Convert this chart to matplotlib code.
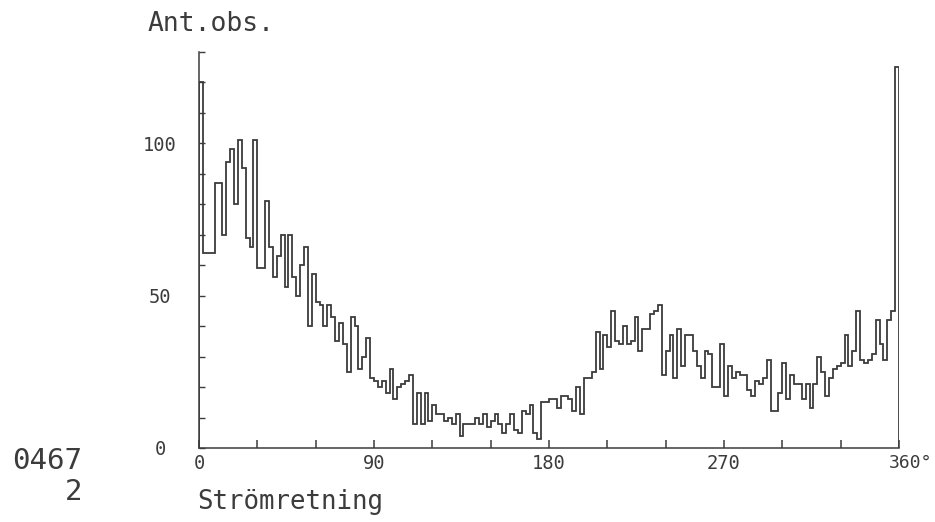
import numpy as np
import matplotlib
matplotlib.use("Agg")
import matplotlib.pyplot as plt
from matplotlib.ticker import MultipleLocator

# histogram of current directions, 2 degree bins
bin_width = 2
counts_0_98 = [120, 64, 64, 64, 87, 87, 70, 94, 98, 80, 101, 92, 69, 66, 101, 59, 59,
               81, 66, 56, 63, 70, 53, 70, 56, 50, 60, 66, 40, 57, 48, 47, 40, 47,
               43, 35, 41, 34, 25, 43, 40, 26, 30, 36, 23, 22, 20, 22, 18]
counts_98_188 = [26, 16, 20, 21, 22, 24, 8, 18, 8, 18, 9, 14, 11, 11, 9, 10, 8, 11,
                 4, 8, 8, 8, 10, 8, 11, 7, 9, 11, 8, 5, 8, 11, 6, 5, 12, 11, 14, 5,
                 3, 15, 15, 16, 16, 13, 17, 17]
counts_190_244 = [16, 12, 20, 11, 23, 23, 25, 38, 26, 37, 33, 45, 35, 34, 40, 34,
                  35, 43, 32, 39, 39, 44, 45, 47, 24, 32, 37]
counts_244_304 = [23, 39, 27, 37, 37, 32, 27, 23, 32, 31, 20, 20, 34, 17, 27, 23,
                  25, 24, 24, 19, 17, 22, 21, 23, 29, 12, 12, 18, 28, 16]
counts_304_360 = [24, 21, 21, 16, 21, 13, 21, 30, 25, 17, 23, 26, 27, 28, 37, 27,
                  32, 45, 29, 28, 29, 31, 42, 34, 29, 42, 45, 125]

xticks_major = [0, 90, 180, 270, 360]
xtick_labels = ["0", "90", "180", "270", "360°"]
yticks_major = [0, 50, 100]

counts = np.array(counts_0_98 + counts_98_188 + counts_190_244 + counts_244_304 + counts_304_360)
edges = np.arange(0, 360 + bin_width, bin_width)

ink = "#3c3c3c"
plt.rcParams["font.family"] = ["DejaVu Sans Mono"]

fig = plt.figure(figsize=(9.35, 5.22), dpi=100)
ax = fig.add_axes([0.2128, 0.1418, 0.7487, 0.7586])

ax.stairs(counts, edges, baseline=0, color=ink, linewidth=1.3)

ax.set_xlim(0, 360)
ax.set_ylim(0, 130)
for s in ["top", "right"]:
    ax.spines[s].set_visible(False)
for s in ["left", "bottom"]:
    ax.spines[s].set_color(ink)
    ax.spines[s].set_linewidth(1.1)

# last label (360°) is drawn separately so it stays inside the figure
ax.set_xticks(xticks_major)
ax.set_xticklabels(xtick_labels[:-1] + [""])
ax.xaxis.set_minor_locator(MultipleLocator(30))
ax.set_yticks(yticks_major)
ax.yaxis.set_minor_locator(MultipleLocator(10))

ax.tick_params(axis="x", which="both", direction="in", length=6, width=1.1,
               color=ink, labelcolor=ink, labelsize=13.5, pad=4)
ax.tick_params(axis="y", which="both", direction="in", length=4, width=1.0,
               color=ink, labelcolor=ink, labelsize=13.5, pad=28)
for lbl in ax.get_yticklabels():
    lbl.set_ha("center")
ax.annotate(xtick_labels[-1], xy=(xticks_major[-1], 0), xytext=(24, -4),
            textcoords="offset points", ha="right", va="top",
            fontsize=13, color=ink, annotation_clip=False)

fig.text(0.158, 0.954, "Ant.obs.", fontsize=19, color=ink, va="center", ha="left")
fig.text(0.2107, 0.038, "Strömretning", fontsize=18.5, color=ink, va="center", ha="left")
fig.text(0.0877, 0.117, "0467", fontsize=21, color=ink, va="center", ha="right")
fig.text(0.0877, 0.057, "2", fontsize=21, color=ink, va="center", ha="right")

fig.savefig("out.png", dpi=100)
plt.close()
